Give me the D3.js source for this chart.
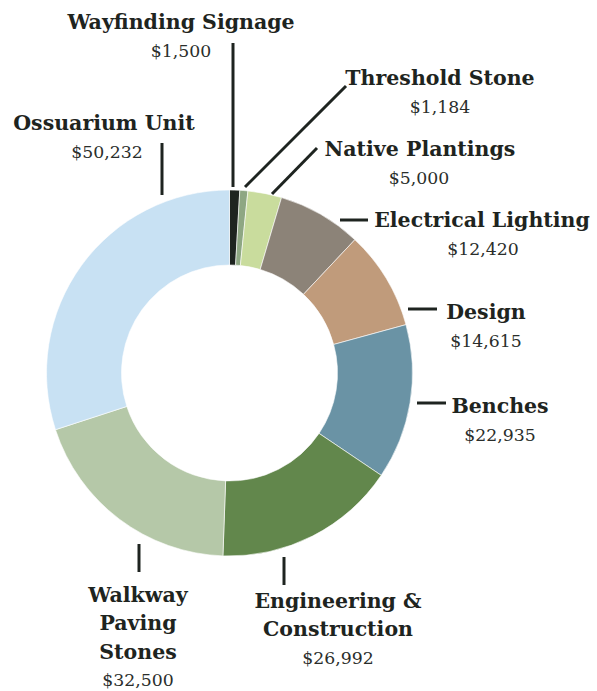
<!DOCTYPE html>
<html>
<head>
<meta charset="utf-8">
<script src="https://cdn.jsdelivr.net/npm/d3@7"></script>
<style>
  html, body { margin: 0; padding: 0; background: #fff; }
  svg { display: block; }
</style>
</head>
<body>
<svg id="chart" width="597" height="691"></svg>
<script>
// ---- data ----
const categories = ["Wayfinding Signage", "Threshold Stone", "Native Plantings", "Electrical Lighting", "Design", "Benches", "Engineering & Construction", "Walkway Paving Stones", "Ossuarium Unit"];
const values = [1500, 1184, 5000, 12420, 14615, 22935, 26992, 32500, 50232];
const valueLabels = ["$1,500", "$1,184", "$5,000", "$12,420", "$14,615", "$22,935", "$26,992", "$32,500", "$50,232"];
const colors = ["#1e2420", "#8ea783", "#c9dc9d", "#8c8378", "#c09b7b", "#6a93a5", "#62874c", "#b5c8a8", "#c8e1f3"];

// ---- annotation layout (label lines, anchor, baselines, leader line) ----
const labelLines = [["Wayfinding Signage"], ["Threshold Stone"], ["Native Plantings"], ["Electrical Lighting"], ["Design"], ["Benches"], ["Engineering &", "Construction"], ["Walkway", "Paving", "Stones"], ["Ossuarium Unit"]];
const labelPos = [
  {x: 181, y: 29, vx: 181, leader: [233, 43, 233, 187]},
  {x: 440, y: 85, vx: 440, leader: [346, 86, 245, 187]},
  {x: 420, y: 156, vx: 419, leader: [317, 148, 272, 194]},
  {x: 482, y: 227, vx: 483, leader: [340, 220, 368, 220]},
  {x: 486, y: 319, vx: 486, leader: [408, 309, 437, 309]},
  {x: 500, y: 413, vx: 500, leader: [417, 403, 446, 403]},
  {x: 338, y: 608, vx: 338, leader: [284, 557, 284, 585]},
  {x: 138, y: 602, vx: 138, leader: [139, 544, 139, 572]},
  {x: 104, y: 130, vx: 107, leader: [162, 143, 162, 195]}
];
const lineHeight = 28.3;

const svg = d3.select("#chart");
const cx = 229.5, cy = 373, outerR = 183, innerR = 108;

const pie = d3.pie().sort(null).value(d => d)(values);
const arc = d3.arc().innerRadius(innerR).outerRadius(outerR);

const g = svg.append("g").attr("transform", `translate(${cx},${cy})`);
g.selectAll("path").data(pie).join("path")
  .attr("d", arc)
  .attr("fill", (d, i) => colors[i])
  .attr("stroke", "#ffffff")
  .attr("stroke-width", 0.6);

const ann = svg.append("g");
ann.selectAll("line").data(labelPos).join("line")
  .attr("x1", d => d.leader[0]).attr("y1", d => d.leader[1])
  .attr("x2", d => d.leader[2]).attr("y2", d => d.leader[3])
  .attr("stroke", "#1e2420").attr("stroke-width", 3);

categories.forEach((c, i) => {
  const p = labelPos[i];
  const lines = labelLines[i];
  lines.forEach((t, j) => {
    ann.append("text")
      .attr("x", p.x).attr("y", p.y + j * lineHeight)
      .attr("text-anchor", "middle")
      .attr("font-family", "'DejaVu Serif', serif")
      .attr("font-weight", "bold")
      .attr("font-size", 20.5)
      .attr("fill", "#1e2420")
      .text(t);
  });
  ann.append("text")
    .attr("x", p.vx).attr("y", p.y + lines.length * lineHeight - 0.5)
    .attr("text-anchor", "middle")
    .attr("font-family", "'DejaVu Serif', serif")
    .attr("font-size", 17.3)
    .attr("fill", "#2a2e2b")
    .text(valueLabels[i]);
});
</script>
</body>
</html>
